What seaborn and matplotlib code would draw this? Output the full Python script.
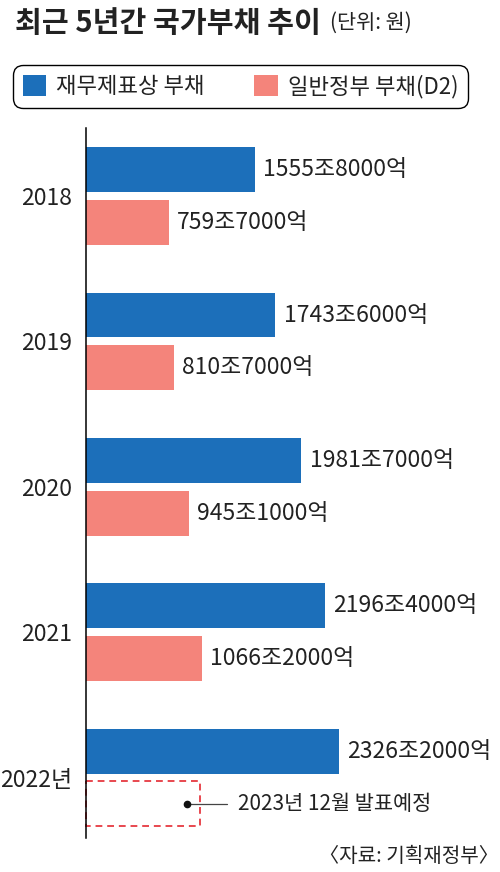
import matplotlib
matplotlib.use("Agg")
import matplotlib.pyplot as plt
from matplotlib.patches import Patch, Rectangle
import seaborn as sns
import pandas as pd

# ---- data ----
years = ["2018", "2019", "2020", "2021", "2022년"]
series_names = ["재무제표상 부채", "일반정부 부채(D2)"]
fin_debt = [1555.8, 1743.6, 1981.7, 2196.4, 2326.2]      # 조원
gov_debt = [759.7, 810.7, 945.1, 1066.2]                 # 조원 (2022 not yet published)
colors = ["#1c6fba", "#f4847b"]
note_text = "2023년 12월 발표예정"
title_text = "최근 5년간 국가부채 추이"
unit_text = "(단위: 원)"
source_text = "〈자료: 기획재정부〉"

rows = []
for y, v in zip(years, fin_debt):
    rows.append({"year": y, "series": series_names[0], "value": v})
for y, v in zip(years, gov_debt):
    rows.append({"year": y, "series": series_names[1], "value": v})
df = pd.DataFrame(rows)


def fmt(v):
    jo = int(v)
    eok = int(round((v - jo) * 10000))
    return f"{jo}조{eok}억"


sns.set_theme(style="white")
CJK = ["Noto Sans CJK KR", "DejaVu Sans"]
plt.rcParams["font.family"] = CJK

fig = plt.figure(figsize=(5, 8.72), dpi=100)
ax = fig.add_axes([0.172, 0.039, 0.808, 0.8142])

palette = dict(zip(series_names, colors))
sns.barplot(data=df, y="year", x="value", hue="series", order=years,
            hue_order=series_names, palette=palette, orient="h", saturation=1,
            width=0.726, gap=0.15, linewidth=0, legend=False, ax=ax)

ax.set_xlim(0, 3720)
ax.set_ylim(4.416, -0.468)
ax.set_xticks([])
ax.set_xlabel("")
ax.set_ylabel("")
for s in ["top", "right", "bottom"]:
    ax.spines[s].set_visible(False)
ax.spines["left"].set_color("black")
ax.spines["left"].set_linewidth(1.1)
ax.tick_params(axis="y", length=0, pad=10)
for lab in ax.get_yticklabels():
    lab.set_fontfamily(CJK)
    lab.set_fontsize(16.5)
    lab.set_color("#222222")

blue_c, red_c = ax.containers[0], ax.containers[1]
ax.bar_label(blue_c, labels=[fmt(v) for v in fin_debt], padding=6,
             family=CJK, fontsize=16.5, color="#222222")
ax.bar_label(red_c, labels=[fmt(v) for v in gov_debt], padding=6,
             family=CJK, fontsize=16.5, color="#222222")

# dashed placeholder for unpublished 2022 D2
offset = red_c.patches[0].get_y() - blue_c.patches[0].get_y()
bp = blue_c.patches[4]
ry = bp.get_y() + offset
rh = bp.get_height()
ax.add_patch(Rectangle((0, ry), 1050, rh, fill=False, edgecolor="#e8474f",
                       linewidth=1.4, linestyle=(0, (3.5, 2.5)), clip_on=False))
cy = ry + rh / 2
ax.plot([930, 1300], [cy, cy], color="#444444", linewidth=0.9)
ax.plot([930], [cy], marker="o", markersize=4.5, color="#111111")
ax.text(1400, cy, note_text, va="center", ha="left", family=CJK,
        fontsize=15, color="#222222")

# titles
fig.text(15 / 500, 1 - 23 / 872, title_text, ha="left", va="center",
         fontsize=21, fontweight="bold", color="#222222", family=CJK)
fig.text(330 / 500, 1 - 23 / 872, unit_text, ha="left", va="center",
         fontsize=15, color="#222222", family=CJK)
fig.text(499 / 500, 1 - 856 / 872, source_text, ha="right", va="center",
         fontsize=14.5, color="#222222", family=CJK)

# legend
handles = [Patch(facecolor=c, edgecolor="none") for c in colors]
leg = fig.legend(handles, series_names, loc="center",
                 bbox_to_anchor=(13 / 500, 1 - 108 / 872, 455 / 500, 43 / 872),
                 mode="expand", ncol=2, fancybox=True, frameon=True,
                 prop={"family": CJK, "size": 16},
                 handlelength=1.05, handleheight=1.05, handletextpad=0.45,
                 borderpad=0.45, borderaxespad=0)
frame = leg.get_frame()
frame.set_edgecolor("black")
frame.set_linewidth(1.0)
frame.set_alpha(1)
frame.set_boxstyle("round", pad=0, rounding_size=0.45)
for t in leg.get_texts():
    t.set_color("#222222")

fig.savefig("out.png", dpi=100)
